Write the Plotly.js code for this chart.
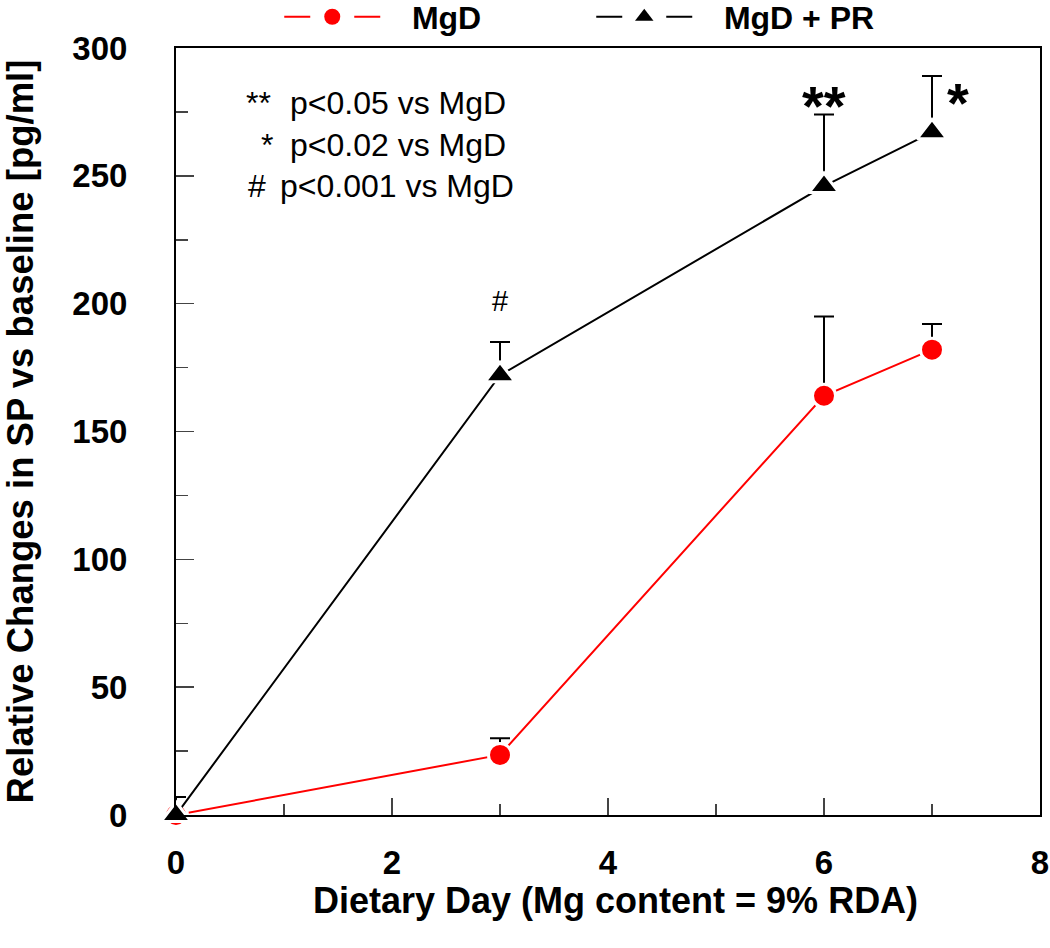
<!DOCTYPE html>
<html>
<head>
<meta charset="utf-8">
<script src="https://cdn.plot.ly/plotly-3.0.1.min.js"></script>
<style>html,body{margin:0;padding:0;background:#fff;}#chart{width:1050px;height:948px;}</style>
</head>
<body>
<div id="chart"></div>
<script>
// ---- data ----
const days = [0, 3, 6, 7];
const mgdValues = [0, 23.5, 164, 182];
const mgdErrPlus = [0, 6.5, 31, 10];
const prValues = [0, 172, 246, 267];
const prErrPlus = [7, 13, 28, 22];
const zeros = [0, 0, 0, 0];
const seriesNames = ['MgD', 'MgD + PR'];
const xTickVals = [0, 2, 4, 6, 8];
const yTickVals = [0, 50, 100, 150, 200, 250, 300];
const sigSymbols = ['**', '*', '#'];
const sigTexts = ['p<0.05 vs MgD', 'p<0.02 vs MgD', 'p<0.001 vs MgD'];
const sigMarks = [
  {x: 3, y: 201, text: '#'},
  {x: 6, y: 277.5, text: '**'},
  {x: 7.24, y: 278.5, text: '*'}
];
const xTitle = 'Dietary Day (Mg content = 9% RDA)';
const yTitle = 'Relative Changes in SP vs baseline [pg/ml]';

const FONT = 'Liberation Sans, Arial, sans-serif';
const nb = '\u00a0';

const traces = [
  {
    x: days, y: mgdValues, mode: 'lines+markers', showlegend: false, cliponaxis: false,
    line: {color: '#ff0000', width: 2},
    marker: {symbol: 'circle', size: 23, color: '#ff0000', line: {color: '#ffffff', width: 3}},
    error_y: {type: 'data', symmetric: false, array: mgdErrPlus, arrayminus: zeros,
      color: '#000000', thickness: 2, width: 10}
  },
  {
    x: days, y: prValues, mode: 'lines+markers', showlegend: false, cliponaxis: false,
    line: {color: '#000000', width: 2},
    marker: {symbol: 'triangle-up', size: 26, color: '#000000', line: {color: '#ffffff', width: 3}},
    error_y: {type: 'data', symmetric: false, array: prErrPlus, arrayminus: zeros,
      color: '#000000', thickness: 2, width: 10}
  },
  // legend entries
  {
    x: [null], y: [null], mode: 'lines+markers', name: nb + nb + nb + seriesNames[0],
    line: {color: '#ff0000', width: 2, dash: '26px,44px'},
    marker: {symbol: 'circle', size: 16, color: '#ff0000'}
  },
  {
    x: [null], y: [null], mode: 'lines+markers', name: nb + nb + nb + seriesNames[1],
    line: {color: '#000000', width: 2, dash: '26px,44px'},
    marker: {symbol: 'triangle-up', size: 16, color: '#000000'}
  }
];

// pixel helpers for annotation placement (plot area: x 176..1040, y 48..815)
const px2x = p => (p - 176) / 108;
const py2y = p => (815 - p) / 2.557;

const annotations = [];
const symRight = [273, 275, 268];
const textLeft = [288, 288, 278];
const noteY = [103, 145, 186];
sigSymbols.forEach((s, i) => {
  annotations.push({
    xref: 'x', yref: 'y', x: px2x(symRight[i]), y: py2y(noteY[i]),
    xanchor: 'right', yanchor: 'middle', showarrow: false, text: s,
    font: {family: FONT, size: 32, color: '#000'}
  });
  annotations.push({
    xref: 'x', yref: 'y', x: px2x(textLeft[i]), y: py2y(noteY[i]),
    xanchor: 'left', yanchor: 'middle', showarrow: false, text: sigTexts[i],
    font: {family: FONT, size: 32, color: '#000'}
  });
});
sigMarks.forEach((m, i) => {
  annotations.push({
    xref: 'x', yref: 'y', x: m.x, y: m.y, xanchor: 'center', yanchor: 'middle',
    showarrow: false, text: m.text,
    font: {family: FONT, size: i === 0 ? 29 : 56, color: '#000', weight: i === 0 ? 'normal' : 'bold'}
  });
});
// x axis title
annotations.push({
  xref: 'paper', yref: 'paper', x: (615 - 176) / 864, y: (815 - 900) / 767,
  xanchor: 'center', yanchor: 'middle', showarrow: false, text: xTitle, borderpad: 0,
  font: {family: FONT, size: 36, weight: 'bold', color: '#000'}
});

const layout = {
  width: 1050, height: 948,
  margin: {l: 176, r: 10, t: 48, b: 133, autoexpand: false},
  paper_bgcolor: '#ffffff', plot_bgcolor: '#ffffff',
  font: {family: FONT, color: '#000'},
  showlegend: true,
  legend: {
    orientation: 'h', x: 0.1195, xanchor: 'left', y: 1.0405, yanchor: 'middle',
    itemwidth: 96, entrywidth: 201,
    font: {family: FONT, size: 32, weight: 'bold', color: '#000'},
    bgcolor: 'rgba(0,0,0,0)', borderwidth: 0
  },
  xaxis: {
    range: [0, 8], tickvals: xTickVals, ticktext: xTickVals.map(String),
    ticks: 'inside', ticklen: 17, tickwidth: 1.5, tickcolor: '#444',
    minor: {dtick: 1, ticks: 'inside', ticklen: 11, tickwidth: 1.5, tickcolor: '#444'},
    showline: true, linecolor: '#000', linewidth: 2, mirror: true,
    showgrid: false, zeroline: false,
    tickfont: {family: FONT, size: 33, weight: 'bold', color: '#000'},
    ticklabelstandoff: 17
  },
  yaxis: {
    range: [0, 300], tickvals: yTickVals, ticktext: yTickVals.map(String),
    ticks: 'inside', ticklen: 18, tickwidth: 1.5, tickcolor: '#444',
    minor: {dtick: 25, ticks: 'inside', ticklen: 12, tickwidth: 1.5, tickcolor: '#444'},
    showline: true, linecolor: '#000', linewidth: 2, mirror: true,
    showgrid: false, zeroline: false,
    tickfont: {family: FONT, size: 33, weight: 'bold', color: '#000'},
    ticklabelstandoff: 40,
    title: {text: yTitle, font: {family: FONT, size: 36.5, weight: 'bold', color: '#000'}, standoff: 32}
  },
  annotations: annotations
};

Plotly.newPlot('chart', traces, layout, {displayModeBar: false, staticPlot: true});
</script>
</body>
</html>
